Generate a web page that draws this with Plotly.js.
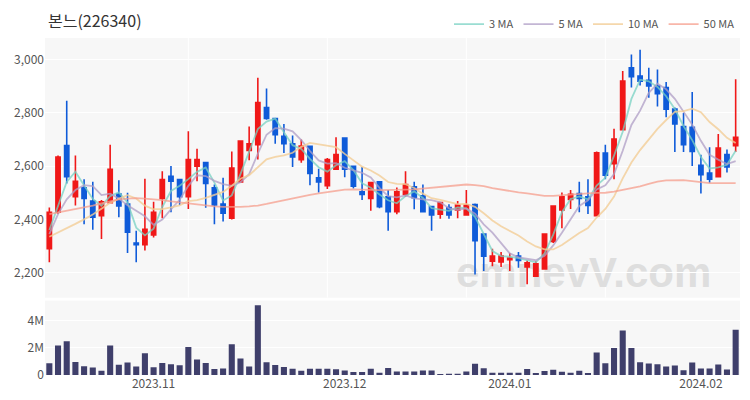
<!DOCTYPE html>
<html><head><meta charset="utf-8">
<script src="https://cdn.plot.ly/plotly-3.0.1.min.js"></script>
<style>html,body{margin:0;padding:0;background:#fff}#chart{width:750px;height:400px}</style>
</head><body><div id="chart"></div>
<script>
const dates = [
 '2023-10-16','2023-10-17','2023-10-18','2023-10-19','2023-10-20','2023-10-23','2023-10-24','2023-10-25','2023-10-26','2023-10-27','2023-10-30','2023-10-31',
 '2023-11-01','2023-11-02','2023-11-03','2023-11-06','2023-11-07','2023-11-08','2023-11-09','2023-11-10','2023-11-13','2023-11-14','2023-11-15','2023-11-16','2023-11-17','2023-11-20','2023-11-21','2023-11-22','2023-11-23','2023-11-24','2023-11-27','2023-11-28','2023-11-29','2023-11-30',
 '2023-12-01','2023-12-04','2023-12-05','2023-12-06','2023-12-07','2023-12-08','2023-12-11','2023-12-12','2023-12-13','2023-12-14','2023-12-15','2023-12-18','2023-12-19','2023-12-20','2023-12-21','2023-12-22','2023-12-26','2023-12-27','2023-12-28',
 '2024-01-02','2024-01-03','2024-01-04','2024-01-05','2024-01-08','2024-01-09','2024-01-10','2024-01-11','2024-01-12','2024-01-15','2024-01-16','2024-01-17','2024-01-18','2024-01-19','2024-01-22','2024-01-23','2024-01-24','2024-01-25','2024-01-26','2024-01-29','2024-01-30','2024-01-31',
 '2024-02-01','2024-02-02','2024-02-05','2024-02-06','2024-02-07'
];
const opens = [2290,2427,2677,2485,2519,2469,2414,2463,2495,2458,2311,2305,2342,2479,2562,2550,2485,2600,2613,2519,
 2458,2404,2541,2659,2680,2820,2779,2712,2684,2624,2674,2556,2526,2588,2705,2599,2504,2479,2541,2485,
 2429,2494,2522,2489,2448,2419,2444,2435,2417,2456,2345,2243,2240,2249,2262,2221,2187,2214,2317,2435,
 2475,2497,2485,2414,2649,2609,2737,2969,2938,2922,2901,2895,2814,2749,2746,2603,2574,2560,2643,2677];
const highs = [2445,2640,2845,2640,2551,2541,2473,2680,2547,2500,2357,2553,2466,2581,2600,2550,2731,2665,2613,2531,
 2556,2655,2696,2749,2932,2891,2779,2758,2715,2700,2674,2590,2630,2708,2705,2599,2597,2538,2541,2510,
 2520,2581,2541,2531,2448,2466,2457,2469,2510,2460,2345,2290,2278,2274,2278,2246,2243,2345,2450,2501,
 2510,2541,2551,2655,2680,2740,2957,3019,3037,2969,2963,2916,2820,2799,2878,2643,2671,2721,2662,2926];
const lows = [2239,2420,2535,2452,2382,2361,2326,2460,2408,2274,2239,2283,2332,2404,2427,2454,2439,2543,2444,2382,
 2392,2400,2538,2622,2625,2774,2684,2649,2597,2613,2528,2501,2514,2588,2558,2516,2473,2432,2442,2357,
 2419,2485,2438,2429,2357,2402,2402,2404,2417,2193,2206,2224,2221,2206,2218,2156,2187,2212,2311,2367,
 2439,2427,2420,2414,2551,2551,2737,2895,2903,2857,2824,2783,2653,2653,2600,2497,2538,2560,2576,2653];
const closes = [2427,2634,2560,2543,2479,2408,2466,2588,2450,2352,2305,2363,2427,2550,2543,2485,2625,2625,2535,2454,
 2423,2593,2694,2684,2839,2779,2718,2684,2634,2675,2572,2541,2625,2643,2588,2525,2494,2538,2448,2429,
 2504,2531,2481,2429,2417,2463,2417,2454,2454,2320,2262,2262,2262,2255,2246,2237,2233,2345,2450,2485,
 2494,2479,2452,2650,2566,2702,2919,2936,2919,2901,2872,2814,2758,2680,2655,2568,2551,2668,2597,2708];
const volumes = [870000,2180000,2500000,960000,650000,550000,310000,2180000,750000,920000,630000,1610000,580000,890000,800000,720000,2070000,1150000,890000,440000,
 490000,2270000,1220000,630000,5160000,940000,740000,600000,460000,310000,470000,470000,470000,420000,340000,230000,230000,460000,160000,520000,
 260000,260000,260000,330000,330000,80000,100000,100000,250000,830000,500000,170000,170000,170000,170000,440000,150000,290000,390000,240000,
 170000,320000,150000,1670000,870000,1990000,3300000,1990000,950000,850000,800000,630000,700000,360000,920000,480000,480000,780000,410000,3350000];
const ma3Head = [2360,2450];
const ma5Head = [2345,2420,2475,2510];
const ma10Head = [2335,2350,2366,2383,2400,2418,2440,2462,2478];
const ma50Head = [2420,2426,2432,2438,2445,2452,2460,2468,2475,2478,
 2480,2478,2476,2472,2468,2464,2460,2456,2452,2449,
 2447,2446,2447,2449,2452,2458,2465,2472,2480,2486,
 2492,2498,2503,2508,2512,2513,2513,2511,2510,2510,
 2510,2512,2513,2516,2520,2523,2527,2529,2531];
const monthTickIdx = [12,34,53,75];
const monthTickLabels = ['2023.11','2023.12','2024.01','2024.02'];
const vGridIdx = [16,32,48,64];
const priceTicks = [2200,2400,2600,2800,3000];
const maNames = ['3 MA','5 MA','10 MA','50 MA'];
const maColors = ['rgba(120,210,195,0.75)','rgba(175,158,198,0.75)','rgba(242,205,150,0.8)','rgba(246,158,140,0.75)'];

function movingAvg(n, head){
  return closes.map((c,i)=>{
    if (i < n-1) return head[i];
    let s=0; for(let k=i-n+1;k<=i;k++) s+=closes[k];
    return s/n;
  });
}
const maSeries = [movingAvg(3,ma3Head), movingAvg(5,ma5Head), movingAvg(10,ma10Head), movingAvg(50,ma50Head)];

const FONT = '"Noto Sans CJK KR", "Noto Sans", sans-serif';
const traces = [
 {type:'candlestick', x:dates, open:opens, high:highs, low:lows, close:closes, xaxis:'x', yaxis:'y',
  increasing:{line:{color:'#f01818',width:1.6}, fillcolor:'#f01818'},
  decreasing:{line:{color:'#0f5bd9',width:1.6}, fillcolor:'#0f5bd9'},
  whiskerwidth:0, showlegend:false, hoverinfo:'skip'},
 {type:'bar', x:dates, y:volumes, xaxis:'x', yaxis:'y2', marker:{color:'#3f3f6b'}, showlegend:false, hoverinfo:'skip'}
];
maSeries.forEach((s,k)=>traces.push({type:'scatter', mode:'lines', x:dates, y:s, name:maNames[k],
  line:{color:maColors[k], width:1.8}, xaxis:'x', yaxis:'y', hoverinfo:'skip'}));

const shapes = vGridIdx.map(i=>({type:'line', xref:'x', yref:'y domain', x0:dates[i], x1:dates[i], y0:0, y1:1,
  line:{color:'#ffffff', width:1}, layer:'below'}));
shapes.push({type:'rect', xref:'paper', yref:'paper', x0:0.55, x1:1.0, y0:0.23, y1:0.40, line:{width:0},
  fillcolor:'rgba(0,0,0,0)', layer:'below',
  label:{text:'<b>emnevV.com</b>', textposition:'middle center', font:{size:42, color:'#dedede', family:'"Liberation Sans", Arial, sans-serif'}}});

const layout = {
  width:750, height:400,
  margin:{l:45, r:10, t:35, b:25},
  paper_bgcolor:'#ffffff', plot_bgcolor:'#f7f7f7',
  font:{family:FONT, size:12, color:'#555'},
  title:{text:'본느(226340)', x:48/750, xref:'container', xanchor:'left', y:1-21/400, yref:'container', yanchor:'middle',
    font:{size:16, color:'#333', family:FONT}},
  showlegend:true,
  legend:{orientation:'h', x:1.0, xanchor:'right', y:1+(35-21)/340, yanchor:'middle', font:{size:11, color:'#555'},
    bgcolor:'rgba(0,0,0,0)', traceorder:'normal'},
  bargap:0.3,
  xaxis:{type:'category', anchor:'y2', range:[-0.5, dates.length-0.5], showgrid:false, zeroline:false,
    tickmode:'array', tickvals:monthTickIdx.map(i=>dates[i]), ticktext:monthTickLabels, ticks:'',
    tickfont:{size:12, color:'#555'}, rangeslider:{visible:false}, showline:false, fixedrange:true},
  yaxis:{domain:[78/340,1], range:[2106,3081], tickmode:'array', tickvals:priceTicks, tickformat:',d',
    gridcolor:'#ffffff', gridwidth:1, zeroline:false, showline:false, ticks:'', tickfont:{size:12, color:'#555'}},
  yaxis2:{domain:[0,75/340], range:[0,5.5e6], dtick:2e6, tickformat:'~s', gridcolor:'#ffffff', gridwidth:1,
    zeroline:false, showline:false, ticks:'', tickfont:{size:12, color:'#555'}},
  shapes:shapes
};
Plotly.newPlot('chart', traces, layout, {staticPlot:true, displayModeBar:false});
</script>
</body></html>
